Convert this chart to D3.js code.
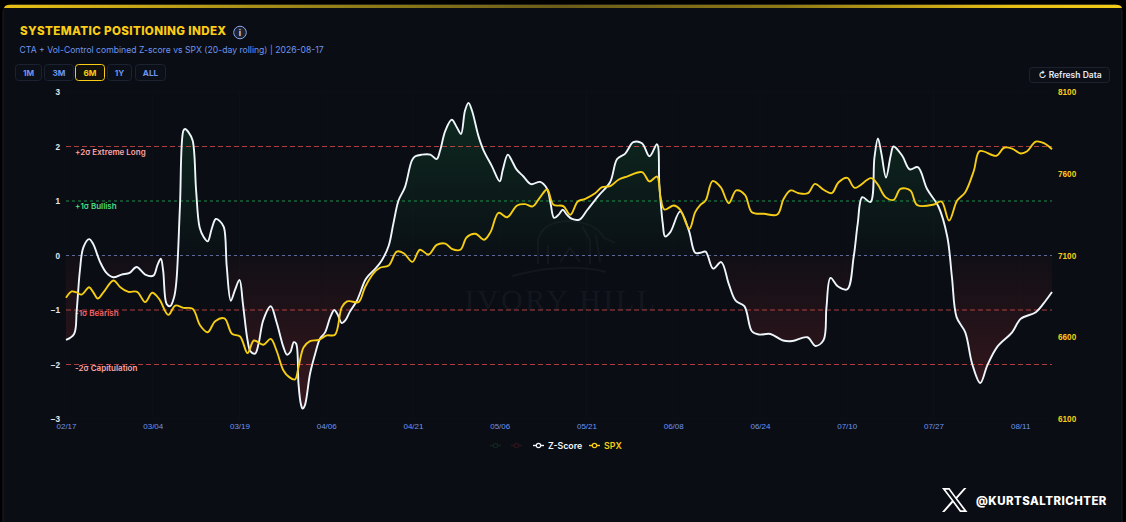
<!DOCTYPE html>
<html>
<head>
<meta charset="utf-8">
<script src="https://cdn.jsdelivr.net/npm/d3@7"></script>
<style>
html, body { margin: 0; padding: 0; background: #000; }
svg { display: block; font-family: Inter, "Noto Sans", sans-serif; }
</style>
</head>
<body>
<svg id="chart" width="1126" height="522"></svg>
<script>
// session number along the bottom axis, z-score
var zIndex = [0,1.4,1.85,2.4,3,4,4.7,5.9,7,8.2,9.6,11,12.2,13.7,15.1,15.8,16.4,16.8,17.4,18,18.7,19.1,19.7,20.3,20.6,21.2,21.9,22.5,23.1,23.8,24.5,25.2,25.9,26.6,27.3,27.8,28.5,29.2,30,30.6,31.4,31.9,32.7,33.3,34.1,35.4,36.4,37.6,38.2,38.8,39.4,39.8,40.2,40.6,40.9,41.3,42.2,43.1,43.9,44.8,45.7,46.4,46.9,47.7,48.3,49.1,50.3,51.7,52.3,53.5,54.6,55.8,56.6,57.5,58.6,59.8,60.4,61.5,63,64.1,64.7,65.6,66.7,67.6,68.3,69,69.6,70.2,71.3,72.2,73.6,75,75.5,76.4,77.1,77.9,79.1,80.4,82,83.2,83.8,84.4,85.2,85.9,86.6,87.5,88.8,90.1,92.1,94.1,95.3,96.7,98.1,99.6,100.9,102.2,102.6,103.2,103.6,104.5,106.2,107.7,108.8,109.7,110.6,111.9,113.3,114.6,115.8,117.3,118.6,119.8,121.8,124,125.6,128.2,129.6,131,131.5,132.2,133.5,135.1,136.2,136.9,137.7,139.1,139.8,140.4,141,141.8,142.6,143.1,144.6,145.9,147.3,148.9,150.9,152.4,153.2,154,155.5,156.7,158.1,159.3,161,163.6,165.1,167.7,169.4,170.5];
var zScore = [-1.55,-1.44,-1.01,-0.28,0.15,0.30,0.21,-0.12,-0.32,-0.40,-0.35,-0.32,-0.21,-0.35,-0.37,-0.18,-0.06,-0.28,-0.89,-0.93,-0.76,-0.46,0.89,2.29,2.32,2.26,2.11,1.19,0.52,0.34,0.26,0.49,0.67,0.63,0.52,-0.21,-0.83,-0.64,-0.45,-0.89,-1.56,-1.76,-1.80,-1.62,-1.19,-0.93,-1.22,-1.68,-1.82,-1.77,-1.59,-1.62,-2.35,-2.72,-2.81,-2.75,-2.17,-1.80,-1.53,-1.41,-1.13,-1.00,-1.07,-1.24,-1.19,-1.03,-0.83,-0.46,-0.37,-0.24,-0.09,0.18,0.58,1.01,1.25,1.74,1.82,1.85,1.85,1.77,1.93,2.29,2.49,2.35,2.23,2.66,2.80,2.66,2.20,1.93,1.65,1.36,1.56,1.85,1.74,1.58,1.45,1.31,1.35,1.22,0.95,0.69,0.75,0.84,0.75,0.67,0.66,0.83,1.10,1.35,1.77,1.87,2.08,2.06,1.82,2.04,1.31,0.58,0.35,0.43,0.81,0.46,0.05,0.05,0.07,-0.24,-0.12,-0.52,-0.83,-0.93,-1.39,-1.45,-1.44,-1.56,-1.57,-1.50,-1.66,-1.55,-0.95,-0.41,-0.57,-0.62,-0.03,0.58,1.07,0.98,1.80,2.15,1.87,1.43,1.83,2.00,1.83,1.58,1.62,1.22,0.89,0.34,-0.40,-1.13,-1.41,-1.99,-2.34,-2.02,-1.68,-1.41,-1.16,-1.04,-0.83,-0.67];

var spxIndex = [0,1,1.85,2.7,4,4.7,5.5,6.5,8.2,9.4,10.8,12.3,13.7,14.9,16.1,17.7,18.9,20.3,21.9,23.2,24.5,25.8,27.4,28.7,30.1,31.4,32.5,34.1,35.4,36.4,37.6,38.6,39.6,40.2,41.1,42.2,43.7,45.1,46.5,47.7,48.6,49.1,50.6,51.7,53.2,54.3,55.8,57.2,58.4,59.9,61.2,62.7,64.1,65.6,66.7,68.2,69.3,70.8,72.3,73.4,74.8,76.3,78,79.4,80.7,82,83.2,84.3,86,87.2,88.5,89.8,91.5,92.7,94.1,95.6,97,99.6,100.9,102.2,102.8,103.5,105.1,106.2,107.8,108.8,109.7,110.6,111.8,113.2,114.6,115.9,117.4,118.6,120.7,123,124.1,125.3,126.7,128.3,129.5,131,132.4,133.6,135.1,136.4,139.2,140.3,141.7,143.1,144.3,146,147.2,150.1,151.4,152.7,154.1,155.5,157,158,160.9,162.2,163.6,165.1,166.2,167.7,169.1,170.5];
var spx = [6841,6880,6874,6861,6906,6876,6837,6876,6947,6906,6878,6878,6815,6872,6835,6737,6794,6780,6774,6672,6631,6698,6715,6621,6605,6503,6580,6554,6590,6519,6397,6356,6342,6417,6539,6576,6584,6611,6615,6784,6819,6821,6815,6906,6992,7025,7039,7124,7114,7061,7135,7106,7165,7173,7141,7135,7212,7233,7196,7243,7361,7334,7406,7414,7400,7457,7504,7410,7402,7349,7430,7447,7481,7518,7524,7565,7583,7610,7553,7583,7457,7381,7406,7381,7263,7365,7410,7436,7555,7518,7420,7498,7471,7365,7355,7351,7447,7498,7481,7481,7538,7502,7481,7548,7575,7514,7573,7538,7457,7440,7508,7498,7408,7412,7430,7314,7436,7487,7620,7738,7710,7759,7754,7724,7738,7797,7787,7750];

var dateLabels = ["02/17","03/04","03/19","04/06","04/21","05/06","05/21","06/08","06/24","07/10","07/27","08/11"];
var dateIndex = [0,15,30,45,60,75,90,105,120,135,150,165];
var zTicks = [3,2,1,0,-1,-2,-3];
var spxTicks = [8100,7600,7100,6600,6100];
var ranges = ["1M","3M","6M","1Y","ALL"];
var levelValues = [2,1,0,-1,-2];
var levelNames = ["+2σ Extreme Long","+1σ Bullish","","-1σ Bearish","-2σ Capitulation"];
var levelColors = ["#ef5350","#22c55e","#7f8fd0","#ef5350","#ef5350"];
var levelText = ["#fca5a5","#4ade80","","#fb6060","#fca5a5"];

var GOLD = "#facc15";
var svg = d3.select("#chart");
var defs = svg.append("defs");

var x = d3.scaleLinear().domain([0, 170.5]).range([66, 1052]);
var yZ = d3.scaleLinear().domain([-3, 3]).range([419, 92]);
var ySpx = d3.scaleLinear().domain([6100, 8100]).range([419, 92]);

// panel
var bar = defs.append("linearGradient").attr("id", "topbar");
bar.append("stop").attr("offset", "0%").attr("stop-color", "#e8c016");
bar.append("stop").attr("offset", "27%").attr("stop-color", "#9a8518");
bar.append("stop").attr("offset", "50%").attr("stop-color", "#6b5c18");
bar.append("stop").attr("offset", "70%").attr("stop-color", "#8f7a16");
bar.append("stop").attr("offset", "90%").attr("stop-color", "#e6bf16");
bar.append("stop").attr("offset", "100%").attr("stop-color", "#f2cc18");

svg.append("rect").attr("width", 1126).attr("height", 522).attr("fill", "#000");
svg.append("rect").attr("x", 3).attr("y", 5).attr("width", 1119).attr("height", 530)
    .attr("rx", 7).attr("fill", "#0a0d14").attr("stroke", "#1a1e28");
svg.append("path").attr("d", "M4,8 Q5,4.8 10,4.8 H1116 Q1121,4.8 1122,8 H4 Z").attr("fill", "url(#topbar)");

// title block
svg.append("text").attr("x", 20).attr("y", 35).attr("fill", GOLD)
    .attr("font-size", 11.6).attr("font-weight", 800).attr("letter-spacing", 0.36)
    .text("SYSTEMATIC POSITIONING INDEX");
var info = svg.append("g").attr("transform", "translate(240,32.5)");
info.append("circle").attr("r", 6.3).attr("fill", "#1a2233").attr("stroke", "#8ea6e8").attr("stroke-width", 1);
info.append("text").attr("y", 3.2).attr("text-anchor", "middle").attr("font-size", 8.5)
    .attr("font-weight", 700).attr("fill", "#cfd9f5").text("i");
svg.append("text").attr("x", 19.5).attr("y", 53).attr("fill", "#6f95ee").attr("font-size", 8.65)
    .text("CTA + Vol-Control combined Z-score vs SPX (20-day rolling) | 2026-08-17");

// range buttons
var btnX = [15, 44, 75, 107, 135];
var btnW = [26, 29, 29, 24, 30];
ranges.forEach(function(r, i) {
    var active = r === "6M";
    svg.append("rect").attr("x", btnX[i] + 0.5).attr("y", 64.5).attr("width", btnW[i]).attr("height", 16)
        .attr("rx", 3).attr("fill", active ? "#12110c" : "#0b0f17")
        .attr("stroke", active ? GOLD : "#1c2230");
    svg.append("text").attr("x", btnX[i] + btnW[i] / 2 + 0.5).attr("y", 76).attr("text-anchor", "middle")
        .attr("font-size", 8.2).attr("font-weight", 700)
        .attr("fill", active ? GOLD : "#6f95ee").text(r);
});

// refresh button
svg.append("rect").attr("x", 1029.5).attr("y", 67.5).attr("width", 80).attr("height", 15)
    .attr("rx", 3).attr("fill", "#0c0f16").attr("stroke", "#1c2230");
svg.append("text").attr("x", 1070).attr("y", 78).attr("text-anchor", "middle")
    .attr("font-size", 8.5).attr("font-weight", 600).attr("fill", "#e6ebf5").text("↻ Refresh Data");

// faint grid
var grid = svg.append("g").attr("stroke", "#ffffff").attr("stroke-opacity", 0.02);
grid.selectAll("line.v").data(dateIndex).enter().append("line").attr("class", "v")
    .attr("x1", function(d) { return x(d); }).attr("x2", function(d) { return x(d); })
    .attr("y1", yZ(3)).attr("y2", yZ(-3));
grid.selectAll("line.h").data(zTicks).enter().append("line").attr("class", "h")
    .attr("x1", 66).attr("x2", 1052)
    .attr("y1", function(d) { return yZ(d); }).attr("y2", function(d) { return yZ(d); });

// watermark
var mark = svg.append("g").attr("opacity", 0.045).attr("fill", "#d8d8d8");
mark.append("text").attr("x", 561).attr("y", 310).attr("text-anchor", "middle")
    .attr("font-family", "Liberation Serif, serif").attr("font-size", 30).attr("letter-spacing", 2.5)
    .text("IVORY HILL");
mark.append("path").attr("fill", "none").attr("stroke", "#d8d8d8").attr("stroke-width", 2)
    .attr("d", "M512,276 Q565,262 606,272 M538,264 V240 Q542,222 568,221 Q596,222 604,238 L615,243 M548,264 V245 M590,264 V240 L582,226 M600,262 L596,235 M560,262 L570,248 L580,262");

// z-score area above and below zero
var zRows = zIndex.map(function(d, i) { return { i: d, v: zScore[i] }; });
var curve = d3.curveCatmullRom.alpha(0.5);

var green = defs.append("linearGradient").attr("id", "greenFill").attr("gradientUnits", "userSpaceOnUse")
    .attr("x1", 0).attr("x2", 0).attr("y1", yZ(2.8)).attr("y2", yZ(0));
green.append("stop").attr("offset", "0%").attr("stop-color", "#22c55e").attr("stop-opacity", 0.16);
green.append("stop").attr("offset", "100%").attr("stop-color", "#22c55e").attr("stop-opacity", 0.015);
var red = defs.append("linearGradient").attr("id", "redFill").attr("gradientUnits", "userSpaceOnUse")
    .attr("x1", 0).attr("x2", 0).attr("y1", yZ(0)).attr("y2", yZ(-2.8));
red.append("stop").attr("offset", "0%").attr("stop-color", "#ef4444").attr("stop-opacity", 0.03);
red.append("stop").attr("offset", "100%").attr("stop-color", "#ef4444").attr("stop-opacity", 0.2);

defs.append("clipPath").attr("id", "aboveZero").append("rect")
    .attr("x", 66).attr("width", 986).attr("y", yZ(3)).attr("height", yZ(0) - yZ(3));
defs.append("clipPath").attr("id", "belowZero").append("rect")
    .attr("x", 66).attr("width", 986).attr("y", yZ(0)).attr("height", yZ(-3) - yZ(0));

var area = d3.area().curve(curve)
    .x(function(d) { return x(d.i); })
    .y0(yZ(0))
    .y1(function(d) { return yZ(d.v); });
svg.append("path").datum(zRows).attr("d", area).attr("fill", "url(#greenFill)").attr("clip-path", "url(#aboveZero)");
svg.append("path").datum(zRows).attr("d", area).attr("fill", "url(#redFill)").attr("clip-path", "url(#belowZero)");

// sigma levels
levelValues.forEach(function(v, i) {
    svg.append("line").attr("x1", 66).attr("x2", 1052).attr("y1", yZ(v)).attr("y2", yZ(v))
        .attr("stroke", levelColors[i])
        .attr("stroke-opacity", 0.7)
        .attr("stroke-width", 1)
        .attr("stroke-dasharray", v === 1 || v === 0 ? "3,3" : "5,3");
    if (levelNames[i]) {
        svg.append("text").attr("x", 75).attr("y", yZ(v) + (v > 0 ? 8 : 6))
            .attr("font-size", 8).attr("font-weight", 600)
            .attr("fill", levelText[i]).text(levelNames[i]);
    }
});

// axes
var axisZ = d3.axisLeft(yZ).tickValues(zTicks).tickSize(0).tickPadding(0).tickFormat(d3.format("d"));
var axisSpx = d3.axisRight(ySpx).tickValues(spxTicks).tickSize(0).tickPadding(0).tickFormat(d3.format("d"));
var axisX = d3.axisBottom(x).tickValues(dateIndex).tickSize(0).tickPadding(0)
    .tickFormat(function(d, i) { return dateLabels[i]; });

var gZ = svg.append("g").attr("transform", "translate(60,0)").call(axisZ);
gZ.selectAll("text").attr("fill", "#e5e7eb").attr("font-size", 8.2).attr("font-weight", 600).attr("dy", "0.32em");
var gS = svg.append("g").attr("transform", "translate(1058,0)").call(axisSpx);
gS.selectAll("text").attr("fill", GOLD).attr("font-size", 8.2).attr("font-weight", 600).attr("dy", "0.32em");
var gX = svg.append("g").attr("transform", "translate(0,423.5)").call(axisX);
gX.selectAll("text").attr("fill", "#6f95ee").attr("font-size", 8).attr("dy", "0.71em");
svg.selectAll(".domain").remove();

// lines
var lineZ = d3.line().curve(curve)
    .x(function(d) { return x(d.i); })
    .y(function(d) { return yZ(d.v); });
var lineS = d3.line().curve(curve)
    .x(function(d, i) { return x(spxIndex[i]); })
    .y(function(d) { return ySpx(d); });
svg.append("path").datum(zRows).attr("d", lineZ).attr("fill", "none").attr("stroke", "#eef6fb")
    .attr("stroke-width", 1.9).attr("stroke-linejoin", "round");
svg.append("path").datum(spx).attr("d", lineS).attr("fill", "none").attr("stroke", "#f5cd14")
    .attr("stroke-width", 1.9).attr("stroke-linejoin", "round");

// legend
var legendNames = ["", "", "Z-Score", "SPX"];
var legendColors = ["#12261f", "#2a161a", "#f3f6fa", GOLD];
var legendX = [490, 511, 533, 589];
legendNames.forEach(function(n, i) {
    var lx = legendX[i];
    svg.append("line").attr("x1", lx).attr("x2", lx + 11).attr("y1", 445.5).attr("y2", 445.5)
        .attr("stroke", legendColors[i]).attr("stroke-width", 1.4);
    svg.append("circle").attr("cx", lx + 5.5).attr("cy", 445.5).attr("r", 2.2)
        .attr("fill", "#0a0d14").attr("stroke", legendColors[i]).attr("stroke-width", 1.2);
    if (n) {
        svg.append("text").attr("x", lx + 15).attr("y", 449).attr("font-size", 8.8).attr("font-weight", 600)
            .attr("fill", legendColors[i]).text(n);
    }
});

// handle
var xLogo = svg.append("g").attr("transform", "translate(942,488)");
xLogo.append("path").attr("fill", "#fff").attr("fill-rule", "evenodd")
    .attr("d", "M0,0 H7.5 L14,9 L22,0 H24.5 L15.2,10.6 L25.5,24 H18 L11,14.5 L2.5,24 H0 L9.8,12.8 Z M3.5,1.7 L18.9,22.3 H22 L6.7,1.7 Z");
svg.append("text").attr("x", 976).attr("y", 504.5).attr("fill", "#fff").attr("font-size", 11.4)
    .attr("font-weight", 800).attr("letter-spacing", 0.5).text("@KURTSALTRICHTER");
</script>
</body>
</html>
